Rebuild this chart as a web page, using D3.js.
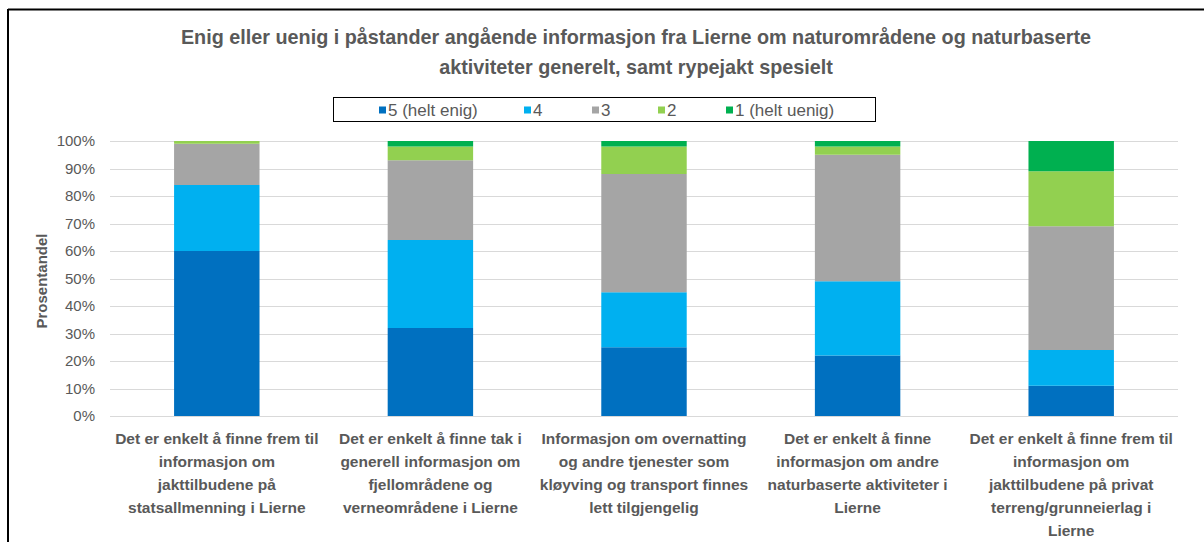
<!DOCTYPE html>
<html>
<head>
<meta charset="utf-8">
<script src="https://cdn.jsdelivr.net/npm/d3@7"></script>
<style>
  body { margin: 0; background: #fff; }
  svg { display: block; font-family: "Liberation Sans", Arial, sans-serif; }
</style>
</head>
<body>
<svg id="chart" width="1204" height="542"></svg>
<script>
// Categories (x tick labels, already wrapped as in the picture)
const categories = ['c1', 'c2', 'c3', 'c4', 'c5'];
const categoryLines = [
  ['Det er enkelt å finne frem til', 'informasjon om', 'jakttilbudene på', 'statsallmenning i Lierne'],
  ['Det er enkelt å finne tak i', 'generell informasjon om', 'fjellområdene og', 'verneområdene i Lierne'],
  ['Informasjon om overnatting', 'og andre tjenester som', 'kløyving og transport finnes', 'lett tilgjengelig'],
  ['Det er enkelt å finne', 'informasjon om andre', 'naturbaserte aktiviteter i', 'Lierne'],
  ['Det er enkelt å finne frem til', 'informasjon om', 'jakttilbudene på privat', 'terreng/grunneierlag i', 'Lierne']
];

// Series (percent per category)
const seriesNames = ['5 (helt enig)', '4', '3', '2', '1 (helt uenig)'];
const s5 = [60, 32, 25, 22, 11];
const s4 = [24, 32, 20, 27, 13];
const s3 = [15, 29, 43, 46, 45];
const s2 = [1, 5, 10, 3, 20];
const s1 = [0, 2, 2, 2, 11];
const colors = ['#0070C0', '#00B0F0', '#A5A5A5', '#92D050', '#00B050'];

const yTicks = [0, 10, 20, 30, 40, 50, 60, 70, 80, 90, 100];

const svg = d3.select('#chart');
const textColor = '#595959';

// outer frame (only top and left visible)
svg.append('line').attr('x1', 8).attr('x2', 1204).attr('y1', 9.5).attr('y2', 9.5)
  .attr('stroke', '#000').attr('stroke-width', 2);
svg.append('line').attr('x1', 8).attr('x2', 8).attr('y1', 9).attr('y2', 542)
  .attr('stroke', '#000').attr('stroke-width', 2);

// title
const title = svg.append('text')
  .attr('text-anchor', 'middle')
  .attr('fill', textColor)
  .attr('font-weight', 'bold')
  .attr('font-size', 19.8);
title.append('tspan').attr('x', 636).attr('y', 44)
  .text('Enig eller uenig i påstander angående informasjon fra Lierne om naturområdene og naturbaserte');
title.append('tspan').attr('x', 636).attr('y', 74)
  .text('aktiviteter generelt, samt rypejakt spesielt');

// scales
const x = d3.scaleBand().domain(categories).range([110, 1178])
  .paddingInner(0.6).paddingOuter(0.3);
const y = d3.scaleLinear().domain([0, 100]).range([416, 141]);

// gridlines
svg.append('g')
  .selectAll('line')
  .data(yTicks)
  .join('line')
  .attr('x1', 110).attr('x2', 1178)
  .attr('y1', d => Math.round(y(d)) + 0.5).attr('y2', d => Math.round(y(d)) + 0.5)
  .attr('stroke', '#D9D9D9').attr('stroke-width', 1);

// y axis labels
const yAxis = svg.append('g')
  .attr('transform', 'translate(100,0)')
  .call(d3.axisLeft(y).tickValues(yTicks).tickFormat(d => d + '%').tickSize(0).tickPadding(5));
yAxis.select('.domain').remove();
yAxis.selectAll('text').attr('fill', textColor).attr('font-size', 15)
  .attr('font-family', '"Liberation Sans", Arial, sans-serif');

svg.append('text')
  .attr('transform', 'translate(47,281) rotate(-90)')
  .attr('text-anchor', 'middle')
  .attr('fill', textColor)
  .attr('font-weight', 'bold')
  .attr('font-size', 15)
  .text('Prosentandel');

// stacked bars
const rows = categories.map((c, i) => ({
  cat: c, s5: s5[i], s4: s4[i], s3: s3[i], s2: s2[i], s1: s1[i]
}));
const keys = ['s5', 's4', 's3', 's2', 's1'];
const stacked = d3.stack().keys(keys)(rows);

svg.append('g')
  .selectAll('g')
  .data(stacked)
  .join('g')
  .attr('fill', (d, i) => colors[i])
  .selectAll('rect')
  .data(d => d)
  .join('rect')
  .attr('x', d => x(d.data.cat))
  .attr('width', x.bandwidth())
  .attr('y', d => y(d[1]))
  .attr('height', d => y(d[0]) - y(d[1]));

// x labels
const xl = svg.append('g')
  .selectAll('text')
  .data(categories)
  .join('text')
  .attr('text-anchor', 'middle')
  .attr('fill', textColor)
  .attr('font-weight', 'bold')
  .attr('font-size', 15.5);
xl.each(function (c, i) {
  const t = d3.select(this);
  categoryLines[i].forEach((line, j) => {
    t.append('tspan')
      .attr('x', x(c) + x.bandwidth() / 2)
      .attr('y', 444 + j * 23)
      .text(line);
  });
});

// legend
svg.append('rect')
  .attr('x', 333.5).attr('y', 97.5).attr('width', 542).attr('height', 24)
  .attr('fill', '#fff').attr('stroke', '#000').attr('stroke-width', 1);
const legendX = [379, 524, 592, 658, 726];
const lg = svg.append('g')
  .selectAll('g')
  .data(seriesNames)
  .join('g')
  .attr('transform', (d, i) => `translate(${legendX[i]},110)`);
lg.append('rect').attr('x', 0).attr('y', -3.5).attr('width', 7).attr('height', 7)
  .attr('fill', (d, i) => colors[i]);
lg.append('text').attr('x', 9).attr('y', 6)
  .attr('fill', textColor).attr('font-size', 17)
  .text(d => d);
</script>
</body>
</html>
